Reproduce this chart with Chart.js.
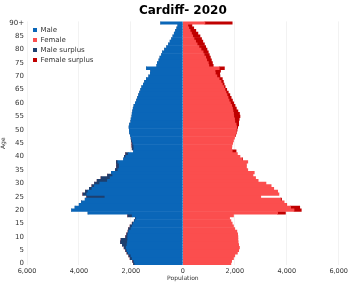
<!DOCTYPE html>
<html><head><meta charset="utf-8">
<script src="https://cdn.jsdelivr.net/npm/chart.js@4"></script>
<style>html,body{margin:0;padding:0;background:#fff}#wrap{width:350px;height:282px}</style>
</head><body><div id="wrap"><canvas id="c"></canvas></div>
<script>
// Age categories 0..89 and 90+
const ageLabels = [];
for (let a = 0; a < 90; a++) ageLabels.push(String(a));
ageLabels.push('90+');

const maleValues = [
1900,1930,2030,2080,2150,
2200,2260,2330,2400,2380,
2200,2160,2110,2090,2030,
1950,1870,1830,2120,3650,
4280,4150,3990,3900,3760,
3700,3850,3750,3600,3500,
3400,3300,3150,2900,2750,
2600,2550,2550,2560,2280,
2250,2200,1900,1950,1960,
1960,1980,1990,2020,2050,
2060,2070,2050,2000,1990,
1960,1950,1930,1910,1880,
1830,1780,1740,1700,1660,
1620,1580,1520,1470,1400,
1310,1250,1240,1400,1000,
980,920,880,820,780,
700,620,550,490,430,
380,330,280,230,190,
850
];

const femaleValues = [
1850,1880,1950,2000,2100,
2150,2180,2150,2130,2120,
2120,2110,2080,2000,1950,
1900,1850,1800,1950,3950,
4560,4500,4000,3900,3800,
3000,3700,3650,3500,3400,
3200,2900,2800,2700,2750,
2500,2450,2450,2500,2300,
2200,2100,2050,1880,1890,
1920,1950,1990,2030,2060,
2090,2110,2150,2150,2170,
2200,2180,2120,2060,2010,
1960,1910,1860,1810,1750,
1690,1630,1590,1560,1520,
1430,1420,1450,1600,1170,
1140,1100,1060,1020,980,
930,880,830,770,720,
660,580,500,420,350,
1900
];

const xTicks = [-6000,-4000,-2000,0,2000,4000,6000];

const common = maleValues.map((m, i) => Math.min(m, femaleValues[i]));
const maleBase = common.map(v => -v);
const femaleBase = common.slice();
const maleSurplus = maleValues.map((m, i) => -Math.max(m - femaleValues[i], 0));
const femaleSurplus = femaleValues.map((f, i) => Math.max(f - maleValues[i], 0));

Chart.defaults.font.family = 'DejaVu Sans';
Chart.defaults.color = '#333';

const legendShift = {
  id: 'legendShift',
  beforeDraw(chart) {
    const lg = chart.legend;
    if (lg) {
      const w = lg.right - lg.left, h = lg.bottom - lg.top;
      lg.left = chart.chartArea.left + 3;
      lg.top = chart.chartArea.top + 2;
      lg.right = lg.left + w;
      lg.bottom = lg.top + h;
    }
  }
};

new Chart(document.getElementById('c'), {
  type: 'bar',
  data: {
    labels: ageLabels,
    datasets: [
      {label: 'Male', data: maleBase, backgroundColor: '#0a66b8'},
      {label: 'Female', data: femaleBase, backgroundColor: '#fb4e4e'},
      {label: 'Male surplus', data: maleSurplus, backgroundColor: '#1d3f6e'},
      {label: 'Female surplus', data: femaleSurplus, backgroundColor: '#c00000'}
    ]
  },
  plugins: [legendShift],
  options: {
    indexAxis: 'y',
    responsive: true,
    maintainAspectRatio: false,
    animation: false,
    datasets: {bar: {barPercentage: 1, categoryPercentage: 1, borderWidth: 0}},
    layout: {padding: {left: 0, right: 8, top: 0, bottom: 0}},
    plugins: {
      title: {
        display: true, text: 'Cardiff- 2020', fullSize: false, color: '#000',
        font: {size: 12, weight: 'bold'}, padding: {top: 4, bottom: 3}
      },
      legend: {
        position: 'chartArea', align: 'start',
        labels: {boxWidth: 4, boxHeight: 4, padding: 3, font: {size: 7}, color: '#333'}
      },
      tooltip: {enabled: false}
    },
    scales: {
      x: {
        stacked: true, min: -6000, max: 6000,
        afterBuildTicks: s => { s.ticks = xTicks.map(v => ({value: v})); },
        afterFit: s => { s.height = 17; },
        ticks: {callback: v => Math.abs(v).toLocaleString('en-US'), font: {size: 6.5}, padding: 2, maxRotation: 0, color: '#333'},
        grid: {color: '#f2f2f2', drawTicks: false},
        border: {display: false},
        title: {display: true, text: 'Population', font: {size: 6}, padding: 0, color: '#333'}
      },
      y: {
        stacked: true, reverse: true,
        afterFit: s => { s.width = 27; },
        ticks: {autoSkip: false, callback: (v, i) => (i % 5 === 0 ? ageLabels[i] : ''), font: {size: 7}, padding: 3, color: '#333'},
        grid: {display: false, drawTicks: false},
        border: {display: false},
        title: {display: true, text: 'Age', font: {size: 6}, padding: 0, color: '#333'}
      }
    }
  }
});
</script>
</body></html>
